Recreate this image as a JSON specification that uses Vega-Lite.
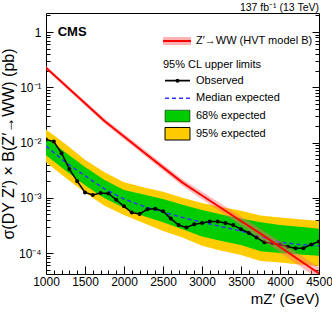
{
  "$schema": "https://vega.github.io/schema/vega-lite/v6.json",
  "width": 273,
  "height": 261,
  "autosize": {"type": "none"},
  "padding": {"left": 46, "top": 13, "right": 13, "bottom": 42},
  "background": "white",
  "title": {"text": "137 fb⁻¹ (13 TeV)", "anchor": "end", "frame": "group", "fontSize": 10.5, "fontWeight": "normal", "font": "Liberation Sans", "offset": 0, "color": "black"},
  "config": {
    "view": {"stroke": "black", "strokeWidth": 1},
    "axis": {"grid": false, "domain": false, "labelFont": "Liberation Sans", "titleFont": "Liberation Sans", "labelColor": "black", "titleColor": "black", "tickColor": "black", "labelFontSize": 12, "titleFontSize": 15, "titleFontWeight": "normal", "labelOverlap": false, "labelFlush": false}
  },
  "datasets": {
    "exp": [
      {"m": 1000, "med": 0.0086, "g_lo": 0.0059, "g_hi": 0.0122, "y_lo": 0.0044, "y_hi": 0.0172},
      {"m": 1250, "med": 0.0044, "g_lo": 0.0031, "g_hi": 0.0066, "y_lo": 0.0023, "y_hi": 0.0094},
      {"m": 1500, "med": 0.0025, "g_lo": 0.00168, "g_hi": 0.0036, "y_lo": 0.00125, "y_hi": 0.0049},
      {"m": 1750, "med": 0.00145, "g_lo": 0.00098, "g_hi": 0.0021, "y_lo": 0.00072, "y_hi": 0.0029},
      {"m": 2000, "med": 0.00095, "g_lo": 0.00066, "g_hi": 0.00138, "y_lo": 0.00049, "y_hi": 0.0019},
      {"m": 2250, "med": 0.0007, "g_lo": 0.00047, "g_hi": 0.00115, "y_lo": 0.00035, "y_hi": 0.00155},
      {"m": 2500, "med": 0.00055, "g_lo": 0.00036, "g_hi": 0.00095, "y_lo": 0.00025, "y_hi": 0.00128},
      {"m": 2750, "med": 0.00044, "g_lo": 0.00027, "g_hi": 0.00075, "y_lo": 0.00019, "y_hi": 0.001},
      {"m": 3000, "med": 0.00036, "g_lo": 0.0002, "g_hi": 0.0006, "y_lo": 0.000135, "y_hi": 0.0008},
      {"m": 3250, "med": 0.0003, "g_lo": 0.000165, "g_hi": 0.0005, "y_lo": 0.00011, "y_hi": 0.00068},
      {"m": 3500, "med": 0.00025, "g_lo": 0.00014, "g_hi": 0.00042, "y_lo": 0.000092, "y_hi": 0.00058},
      {"m": 3750, "med": 0.000195, "g_lo": 0.000108, "g_hi": 0.00036, "y_lo": 0.000072, "y_hi": 0.00048},
      {"m": 4000, "med": 0.000158, "g_lo": 0.0001, "g_hi": 0.00032, "y_lo": 0.000067, "y_hi": 0.00044},
      {"m": 4250, "med": 0.000142, "g_lo": 0.000094, "g_hi": 0.0003, "y_lo": 0.000062, "y_hi": 0.00041},
      {"m": 4500, "med": 0.000135, "g_lo": 0.000089, "g_hi": 0.000275, "y_lo": 0.000058, "y_hi": 0.00038}
    ],
    "obs": [
      {"m": 1000, "v": 0.0113}, {"m": 1100, "v": 0.0104}, {"m": 1200, "v": 0.0064}, {"m": 1300, "v": 0.0033},
      {"m": 1400, "v": 0.002}, {"m": 1500, "v": 0.00125}, {"m": 1600, "v": 0.00112}, {"m": 1700, "v": 0.00122},
      {"m": 1800, "v": 0.0012}, {"m": 1900, "v": 0.00092}, {"m": 2000, "v": 0.0007}, {"m": 2100, "v": 0.00054},
      {"m": 2200, "v": 0.00051}, {"m": 2300, "v": 0.00062}, {"m": 2400, "v": 0.00063}, {"m": 2500, "v": 0.00057},
      {"m": 2600, "v": 0.00042}, {"m": 2700, "v": 0.00032}, {"m": 2800, "v": 0.00029}, {"m": 2900, "v": 0.00033},
      {"m": 3000, "v": 0.00035}, {"m": 3100, "v": 0.00037}, {"m": 3200, "v": 0.00037}, {"m": 3300, "v": 0.00035},
      {"m": 3400, "v": 0.00032}, {"m": 3500, "v": 0.00027}, {"m": 3600, "v": 0.00023}, {"m": 3700, "v": 0.00019},
      {"m": 3800, "v": 0.000156}, {"m": 3900, "v": 0.00015}, {"m": 4000, "v": 0.000142}, {"m": 4100, "v": 0.00013},
      {"m": 4200, "v": 0.000122}, {"m": 4300, "v": 0.000122}, {"m": 4400, "v": 0.000143}, {"m": 4500, "v": 0.000162}
    ],
    "theory": [
      {"m": 1000, "v": 0.226, "lo": 0.209, "hi": 0.244},
      {"m": 1250, "v": 0.1076, "lo": 0.0987, "hi": 0.117},
      {"m": 1500, "v": 0.0513, "lo": 0.0466, "hi": 0.0564},
      {"m": 1750, "v": 0.0245, "lo": 0.0221, "hi": 0.0272},
      {"m": 2000, "v": 0.0129, "lo": 0.0115, "hi": 0.0144},
      {"m": 2250, "v": 0.00676, "lo": 0.00598, "hi": 0.00764},
      {"m": 2500, "v": 0.00355, "lo": 0.00311, "hi": 0.00405},
      {"m": 2750, "v": 0.00188, "lo": 0.00163, "hi": 0.00216},
      {"m": 3000, "v": 0.0011, "lo": 0.00094, "hi": 0.00129},
      {"m": 3250, "v": 0.000646, "lo": 0.000543, "hi": 0.000769},
      {"m": 3500, "v": 0.00038, "lo": 0.000314, "hi": 0.00046},
      {"m": 3750, "v": 0.000224, "lo": 0.000182, "hi": 0.000276},
      {"m": 4000, "v": 0.000129, "lo": 0.000103, "hi": 0.000161},
      {"m": 4250, "v": 0.000074, "lo": 0.0000583, "hi": 0.000094},
      {"m": 4500, "v": 0.0000427, "lo": 0.0000328, "hi": 0.0000555}
    ],
    "legLines": [
      {"k": "theory", "x": 2500, "x2": 2859, "y": 0.687},
      {"k": "obs", "x": 2526, "x2": 2846, "y": 0.1315},
      {"k": "med", "x": 2526, "x2": 2846, "y": 0.063}
    ],
    "legBoxes": [
      {"k": "theory", "x": 2500, "x2": 2859, "y": 0.58, "y2": 0.81},
      {"k": "g68", "x": 2526, "x2": 2846, "y": 0.0236, "y2": 0.0385},
      {"k": "y95", "x": 2526, "x2": 2846, "y": 0.0111, "y2": 0.0187}
    ],
    "legDot": [{"x": 2686, "y": 0.1315}],
    "legText": [
      {"x": 2923, "y": 0.687, "t": "Z′→WW (HVT model B)"},
      {"x": 2500, "y": 0.253, "t": "95% CL upper limits"},
      {"x": 2923, "y": 0.1315, "t": "Observed"},
      {"x": 2923, "y": 0.063, "t": "Median expected"},
      {"x": 2923, "y": 0.03, "t": "68% expected"},
      {"x": 2923, "y": 0.01425, "t": "95% expected"}
    ],
    "cms": [{"x": 1150, "y": 1.0, "t": "CMS"}]
  },
  "resolve": {"axis": {"x": "independent", "y": "independent"}},
  "layer": [
    {
      "data": {"name": "exp"},
      "mark": {"type": "area", "color": "#ffcc00", "clip": true},
      "encoding": {
        "x": {"field": "m", "type": "quantitative", "scale": {"domain": [1000, 4500], "nice": false, "zero": false},
          "axis": {"orient": "bottom", "values": [1000, 1500, 2000, 2500, 3000, 3500, 4000, 4500], "format": "d", "tickSize": -8, "labelPadding": 10, "title": "mZ′ (GeV)", "titleAnchor": "end", "titlePadding": 4}},
        "y": {"field": "y_lo", "type": "quantitative", "scale": {"type": "log", "domain": [0.0000417, 2.21], "nice": false},
          "axis": {"orient": "left", "values": [0.0001, 0.001, 0.01, 0.1, 1], "tickSize": -7, "labelPadding": 12,
            "labelExpr": "datum.value > 0.5 ? '1' : datum.value > 0.05 ? '10⁻¹' : datum.value > 0.005 ? '10⁻²' : datum.value > 0.0005 ? '10⁻³' : '10⁻⁴'",
            "title": "σ(DY Z′) × B(Z′→WW) (pb)", "titleFontSize": 16, "titlePadding": 2}},
        "y2": {"field": "y_hi"}
      }
    },
    {
      "data": {"name": "exp"},
      "mark": {"type": "area", "color": "#00cc00", "clip": true},
      "encoding": {
        "x": {"field": "m", "type": "quantitative", "scale": {"domain": [1000, 4500], "nice": false, "zero": false},
          "axis": {"orient": "bottom", "values": [1100, 1200, 1300, 1400, 1600, 1700, 1800, 1900, 2100, 2200, 2300, 2400, 2600, 2700, 2800, 2900, 3100, 3200, 3300, 3400, 3600, 3700, 3800, 3900, 4100, 4200, 4300, 4400], "tickSize": -4, "labels": false, "title": null}},
        "y": {"field": "g_lo", "type": "quantitative", "scale": {"type": "log", "domain": [0.0000417, 2.21], "nice": false},
          "axis": {"orient": "left", "values": [0.00005, 0.00006, 0.00007, 0.00008, 0.00009, 0.0002, 0.0003, 0.0004, 0.0005, 0.0006, 0.0007, 0.0008, 0.0009, 0.002, 0.003, 0.004, 0.005, 0.006, 0.007, 0.008, 0.009, 0.02, 0.03, 0.04, 0.05, 0.06, 0.07, 0.08, 0.09, 0.2, 0.3, 0.4, 0.5, 0.6, 0.7, 0.8, 0.9, 2], "tickSize": -4, "labels": false, "title": null}},
        "y2": {"field": "g_hi"}
      }
    },
    {
      "data": {"name": "exp"},
      "mark": {"type": "line", "color": "#3333ff", "strokeWidth": 1.5, "strokeDash": [4, 3], "clip": true},
      "encoding": {
        "x": {"field": "m", "type": "quantitative", "scale": {"domain": [1000, 4500], "nice": false, "zero": false}, "axis": null},
        "y": {"field": "med", "type": "quantitative", "scale": {"type": "log", "domain": [0.0000417, 2.21], "nice": false},
          "axis": {"orient": "right", "values": [0.0001, 0.001, 0.01, 0.1, 1], "tickSize": -7, "labels": false, "title": null}}
      }
    },
    {
      "data": {"name": "obs"},
      "mark": {"type": "line", "color": "black", "strokeWidth": 1.5, "clip": true, "point": {"filled": true, "size": 16, "color": "black"}},
      "encoding": {
        "x": {"field": "m", "type": "quantitative", "scale": {"domain": [1000, 4500], "nice": false, "zero": false}, "axis": null},
        "y": {"field": "v", "type": "quantitative", "scale": {"type": "log", "domain": [0.0000417, 2.21], "nice": false},
          "axis": {"orient": "right", "values": [0.00005, 0.00006, 0.00007, 0.00008, 0.00009, 0.0002, 0.0003, 0.0004, 0.0005, 0.0006, 0.0007, 0.0008, 0.0009, 0.002, 0.003, 0.004, 0.005, 0.006, 0.007, 0.008, 0.009, 0.02, 0.03, 0.04, 0.05, 0.06, 0.07, 0.08, 0.09, 0.2, 0.3, 0.4, 0.5, 0.6, 0.7, 0.8, 0.9, 2], "tickSize": -4, "labels": false, "title": null}}
      }
    },
    {
      "data": {"name": "theory"},
      "mark": {"type": "area", "color": "#ff6b6b", "opacity": 0.45, "clip": true},
      "encoding": {
        "x": {"field": "m", "type": "quantitative", "axis": null},
        "y": {"field": "lo", "type": "quantitative", "axis": null},
        "y2": {"field": "hi"}
      }
    },
    {
      "data": {"name": "theory"},
      "mark": {"type": "line", "color": "#ff0000", "strokeWidth": 2, "clip": true},
      "encoding": {
        "x": {"field": "m", "type": "quantitative", "axis": null},
        "y": {"field": "v", "type": "quantitative", "axis": null}
      }
    },
    {
      "data": {"name": "legBoxes"},
      "mark": {"type": "rect", "stroke": "black", "strokeWidth": 1},
      "encoding": {
        "x": {"field": "x", "type": "quantitative", "axis": null},
        "x2": {"field": "x2"},
        "y": {"field": "y", "type": "quantitative", "axis": null},
        "y2": {"field": "y2"},
        "fill": {"field": "k", "type": "nominal", "scale": {"domain": ["theory", "g68", "y95"], "range": ["#ffb0b0", "#00cc00", "#ffcc00"]}, "legend": null},
        "strokeOpacity": {"field": "k", "type": "nominal", "scale": {"domain": ["theory", "g68", "y95"], "range": [0, 1, 1]}, "legend": null}
      }
    },
    {
      "data": {"name": "legLines"},
      "mark": {"type": "rule"},
      "encoding": {
        "x": {"field": "x", "type": "quantitative", "axis": null},
        "x2": {"field": "x2"},
        "y": {"field": "y", "type": "quantitative", "axis": null},
        "color": {"field": "k", "type": "nominal", "scale": {"domain": ["theory", "obs", "med"], "range": ["#ff0000", "black", "#3333ff"]}, "legend": null},
        "strokeWidth": {"field": "k", "type": "nominal", "scale": {"domain": ["theory", "obs", "med"], "range": [2, 1.5, 1.5]}, "legend": null},
        "strokeDash": {"field": "k", "type": "nominal", "scale": {"domain": ["theory", "obs", "med"], "range": [[1, 0], [1, 0], [4, 3]]}, "legend": null}
      }
    },
    {
      "data": {"name": "legDot"},
      "mark": {"type": "point", "filled": true, "size": 16, "color": "black", "opacity": 1},
      "encoding": {
        "x": {"field": "x", "type": "quantitative", "axis": null},
        "y": {"field": "y", "type": "quantitative", "axis": null}
      }
    },
    {
      "data": {"name": "legText"},
      "mark": {"type": "text", "align": "left", "baseline": "middle", "font": "Liberation Sans", "fontSize": 11, "color": "black"},
      "encoding": {
        "x": {"field": "x", "type": "quantitative", "axis": null},
        "y": {"field": "y", "type": "quantitative", "axis": null},
        "text": {"field": "t"}
      }
    },
    {
      "data": {"name": "cms"},
      "mark": {"type": "text", "align": "left", "baseline": "middle", "font": "Liberation Sans", "fontSize": 13, "fontWeight": "bold", "color": "black"},
      "encoding": {
        "x": {"field": "x", "type": "quantitative", "axis": null},
        "y": {"field": "y", "type": "quantitative", "axis": null},
        "text": {"field": "t"}
      }
    }
  ]
}
